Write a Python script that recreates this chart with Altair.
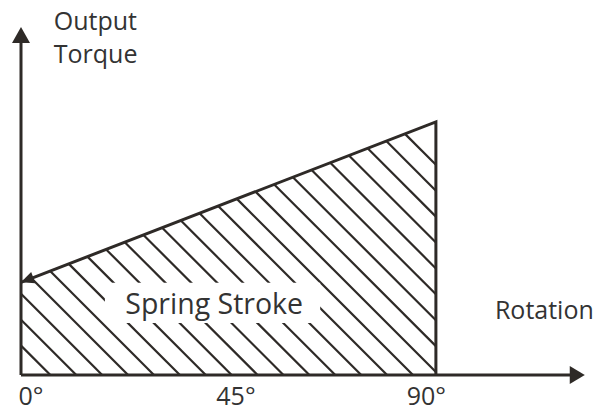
import altair as alt
import pandas as pd
import numpy as np

# ---- data ----
ROTATION = [0, 90]            # degrees
TORQUE = [20.1, 54.9]         # output torque at 0° and 90° (arbitrary units)
TICK_DEG = [0, 45, 90]
TICK_LABEL = ["0°", "45°", "90°"]
AXIS_END_X = 122.3            # rotation axis arrow tip
AXIS_END_Y = 75.5             # torque axis arrow tip

INK = "#2e2a27"
TXT = "#333333"
FONT = "Open Sans"

# ---- scales (same px per unit on both axes so hatch is 45°) ----
PX = 4.61
W, H = 599, 400
X0, Y0 = 13, 367
xs = alt.Scale(domain=[-X0 / PX, (W - X0) / PX], nice=False, zero=False)
ys = alt.Scale(domain=[-(H - Y0) / PX, Y0 / PX], nice=False, zero=False)


def X(f):
    return alt.X(f, type="quantitative", scale=xs, axis=None)


def Y(f):
    return alt.Y(f, type="quantitative", scale=ys, axis=None)


# ---- hatch lines (decoration: lines rot + torque = C, clipped to the area) ----
t0, t1 = TORQUE
m = (t1 - t0) / (ROTATION[1] - ROTATION[0])
S = 25.9 / PX
C0 = 90.65
rows = []
for k in range(-15, 9):
    C = C0 + S * k
    if C <= 90:
        xa, ya = C, 0.0
    else:
        xa, ya = 90.0, C - 90
    xe = (C - t0) / (1 + m)
    if xe < 0:
        xb, yb = 0.0, C
    else:
        xb, yb = xe, t0 + m * xe
    rows.append({"x": xa, "y": ya, "x2": xb, "y2": yb})
hatch_df = pd.DataFrame(rows)

hatch = alt.Chart(hatch_df).mark_rule(color=INK, strokeWidth=2.2).encode(
    x=X("x"), y=Y("y"), x2="x2", y2="y2"
)

# white box behind label
box_df = pd.DataFrame({"x": [18.2], "x2": [64.9], "y": [11.3], "y2": [20.0]})
box = alt.Chart(box_df).mark_rect(color="white").encode(
    x=X("x"), x2="x2", y=Y("y"), y2="y2"
)

label_df = pd.DataFrame({"x": [41.9], "y": [13.2], "t": ["Spring Stroke"]})
label = alt.Chart(label_df).mark_text(
    font=FONT, fontSize=28.5, color=TXT, align="center", baseline="alphabetic"
).encode(x=X("x"), y=Y("y"), text="t")

# outline: top edge + right edge
outline_df = pd.DataFrame({
    "x": [ROTATION[0], ROTATION[1], ROTATION[1]],
    "y": [TORQUE[0], TORQUE[1], 0],
    "o": [0, 1, 2],
})
outline = alt.Chart(outline_df).mark_line(
    color=INK, strokeWidth=3, strokeJoin="miter"
).encode(x=X("x"), y=Y("y"), order="o")

# axes lines
axes_df = pd.DataFrame({
    "x": [0, 0], "y": [0, 0],
    "x2": [AXIS_END_X - 2, 0], "y2": [0, AXIS_END_Y - 2],
})
axes = alt.Chart(axes_df).mark_rule(color=INK, strokeWidth=3).encode(
    x=X("x"), y=Y("y"), x2="x2", y2="y2"
)

# arrow heads
up_arrow = alt.Chart(pd.DataFrame({"x": [0], "y": [AXIS_END_Y]})).mark_point(
    shape="M0,0L-1,1.78L1,1.78Z", size=324, filled=True, color=INK, opacity=1, strokeWidth=0
).encode(x=X("x"), y=Y("y"))
right_arrow = alt.Chart(pd.DataFrame({"x": [AXIS_END_X], "y": [0]})).mark_point(
    shape="M0,0L-1.67,-1L-1.67,1Z", size=324, filled=True, color=INK, opacity=1, strokeWidth=0
).encode(x=X("x"), y=Y("y"))
slope_arrow = alt.Chart(pd.DataFrame({"x": [ROTATION[0]], "y": [TORQUE[0]]})).mark_point(
    shape="M0,0L-1,2.2L1,2.2Z", size=144, filled=True, color=INK, opacity=1,
    strokeWidth=0, angle=249
).encode(x=X("x"), y=Y("y"))

# tick labels
tick_df = pd.DataFrame({"x": TICK_DEG, "t": TICK_LABEL, "y": [-6.5] * 3})
tick_dx = {"0°": 10, "45°": 7.5, "90°": -9.5}
ticks = [
    alt.Chart(tick_df[tick_df.t == lab]).mark_text(
        font=FONT, fontSize=25, color=TXT, align="center", baseline="alphabetic", dx=dx
    ).encode(x=X("x"), y=Y("y"), text="t")
    for lab, dx in tick_dx.items()
]

# axis titles
ytitle = alt.Chart(pd.DataFrame({"x": [7.1], "y": [74.8], "t": ["Output\nTorque"]})).mark_text(
    font=FONT, fontSize=25, color=TXT, align="left", baseline="alphabetic",
    lineBreak="\n", lineHeight=33
).encode(x=X("x"), y=Y("y"), text="t")
xtitle = alt.Chart(pd.DataFrame({"x": [102.8], "y": [12.15], "t": ["Rotation"]})).mark_text(
    font=FONT, fontSize=25, color=TXT, align="left", baseline="alphabetic"
).encode(x=X("x"), y=Y("y"), text="t")

chart = alt.layer(
    hatch, box, label, outline, axes, up_arrow, right_arrow, slope_arrow,
    *ticks, ytitle, xtitle
).properties(
    width=W, height=H, padding=0, autosize=alt.AutoSizeParams(type="none")
).configure_view(strokeWidth=0)

chart.save("out.html", embed_options={"renderer": "svg", "actions": False})
